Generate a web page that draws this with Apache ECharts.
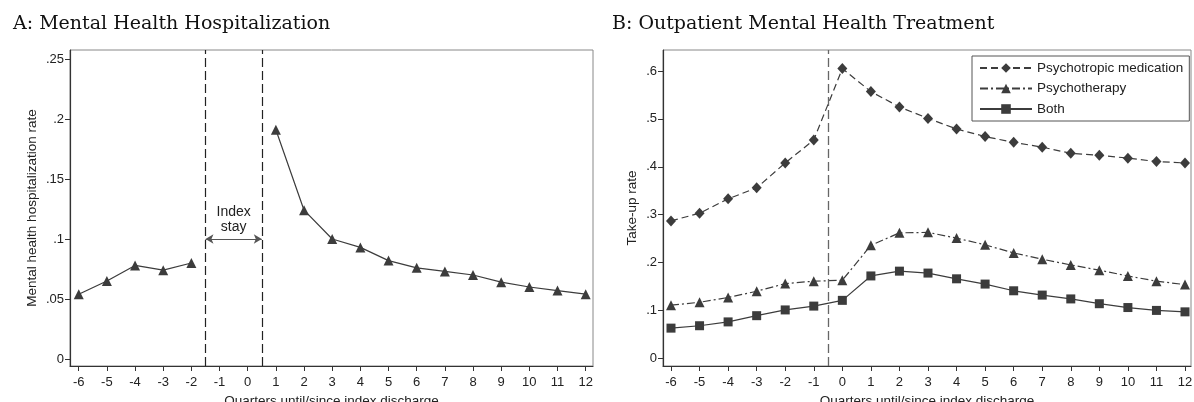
<!DOCTYPE html>
<html>
<head>
<meta charset="utf-8">
<script src="https://cdn.jsdelivr.net/npm/echarts@6/dist/echarts.min.js"></script>
<style>
html,body{margin:0;padding:0;background:#fff;}
#chart{width:1194px;height:402px;}
</style>
</head>
<body>
<div id="chart"></div>
<script>
// ---- data ----
var quarters = [-6,-5,-4,-3,-2,-1,0,1,2,3,4,5,6,7,8,9,10,11,12];
var hospRate = [0.054,0.065,0.078,0.074,0.080,null,null,0.191,0.124,0.100,0.093,0.082,0.076,0.073,0.070,0.064,0.060,0.057,0.054];
var psychMed = [0.287,0.303,0.333,0.356,0.408,0.456,0.605,0.557,0.525,0.501,0.479,0.463,0.451,0.441,0.428,0.424,0.418,0.411,0.408];
var psychTher = [0.111,0.117,0.127,0.140,0.156,0.161,0.163,0.236,0.262,0.263,0.251,0.237,0.220,0.207,0.195,0.184,0.172,0.161,0.154];
var bothRate = [0.063,0.068,0.076,0.089,0.101,0.109,0.121,0.172,0.182,0.178,0.166,0.155,0.141,0.132,0.124,0.114,0.106,0.100,0.097];
var xTicks = [-6,-5,-4,-3,-2,-1,0,1,2,3,4,5,6,7,8,9,10,11,12];
var yTicksA = [0,0.05,0.1,0.15,0.2,0.25];
var yTicksB = [0,0.1,0.2,0.3,0.4,0.5,0.6];
var indexStayBounds = [-1.5, 0.5];
var dischargeLine = -0.5;
var arrowLevel = 0.1;
var titles = ['A: Mental Health Hospitalization','B: Outpatient Mental Health Treatment'];
var seriesNames = ['Psychotropic medication','Psychotherapy','Both'];

function pairs(xs, ys){ return xs.map(function(x,i){ return [x, ys[i]]; }); }
function fmtY(v){ if (v === 0) return '0'; return String(v).replace(/^0/, ''); }

var ink = '#3c3c3c';
var sans = 'Liberation Sans, Arial, sans-serif';

function xAxis(gi, min, max){
  return {
    type:'value', gridIndex:gi, min:min, max:max,
    name:'Quarters until/since index discharge', nameLocation:'middle', nameGap:24,
    nameTextStyle:{fontFamily:sans, fontSize:13.5, color:'#222'},
    axisLine:{show:true, onZero:false, lineStyle:{color:'#333', width:1.2}},
    axisTick:{show:true, customValues:xTicks, length:5, lineStyle:{color:'#333'}},
    axisLabel:{customValues:xTicks, fontFamily:sans, fontSize:13, color:'#222', margin:10},
    splitLine:{show:false}
  };
}
function yAxis(gi, min, max, ticks, name, gap){
  return {
    type:'value', gridIndex:gi, min:min, max:max,
    name:name, nameLocation:'middle', nameGap:gap, nameRotate:90,
    nameTextStyle:{fontFamily:sans, fontSize:13.5, color:'#222'},
    axisLine:{show:true, onZero:false, lineStyle:{color:'#333', width:1.2}},
    axisTick:{show:true, customValues:ticks, length:5, lineStyle:{color:'#333'}},
    axisLabel:{customValues:ticks, formatter:fmtY, fontFamily:sans, fontSize:13, color:'#222', margin:6},
    splitLine:{show:false}
  };
}

var option = {
  animation:false,
  backgroundColor:'#fff',
  title:[
    {text:titles[0], left:8, top:10, textStyle:{fontFamily:'DejaVu Serif', fontSize:19, fontWeight:'normal', color:'#111'}},
    {text:titles[1], left:607, top:10, textStyle:{fontFamily:'DejaVu Serif', fontSize:19, fontWeight:'normal', color:'#111'}}
  ],
  grid:[
    {left:70, top:50, width:523, height:316, show:true, borderColor:'#888', borderWidth:1, containLabel:false, outerBoundsMode:'none'},
    {left:663, top:50, width:528, height:316, show:true, borderColor:'#888', borderWidth:1, containLabel:false, outerBoundsMode:'none'}
  ],
  legend:{
    data:seriesNames, orient:'vertical', left:972, top:56,
    borderColor:'#555', borderWidth:1, borderRadius:0, padding:[5,6,5,7],
    itemWidth:52, itemHeight:12, itemGap:6.5,
    textStyle:{fontFamily:sans, fontSize:13.5, color:'#222'}
  },
  xAxis:[ xAxis(0, -6.31, 12.26), xAxis(1, -6.28, 12.21) ],
  yAxis:[
    yAxis(0, -0.00583, 0.2575, yTicksA, 'Mental health hospitalization rate', 31),
    yAxis(1, -0.0161, 0.6439, yTicksB, 'Take-up rate', 24)
  ],
  series:[
    {
      name:'Hospitalization', type:'line', xAxisIndex:0, yAxisIndex:0,
      data:pairs(quarters, hospRate), connectNulls:false,
      symbol:'triangle', symbolSize:10, color:ink,
      lineStyle:{color:ink, width:1.2}, itemStyle:{color:ink},
      markLine:{
        silent:true, animation:false, symbol:'none',
        data:[
          {xAxis:indexStayBounds[0], lineStyle:{type:[9,4], color:'#222', width:1.2}, label:{show:false}},
          {xAxis:indexStayBounds[1], lineStyle:{type:[9,4], color:'#222', width:1.2}, label:{show:false}},
          [
            {coord:[indexStayBounds[0], arrowLevel], symbol:'arrow', symbolSize:[7,8]},
            {coord:[indexStayBounds[1], arrowLevel], symbol:'arrow', symbolSize:[7,8],
             lineStyle:{type:'solid', color:'#555', width:1.2},
             label:{show:true, position:'insideMiddleTop', distance:4, formatter:'Index\nstay', fontFamily:sans, fontSize:14, lineHeight:15, color:'#222'}}
          ]
        ]
      }
    },
    {
      name:seriesNames[0], type:'line', xAxisIndex:1, yAxisIndex:1,
      data:pairs(quarters, psychMed),
      symbol:'diamond', symbolSize:[10,11], color:ink,
      lineStyle:{color:ink, width:1.2, type:[7,4]}, itemStyle:{color:ink},
      markLine:{
        silent:true, animation:false, symbol:'none',
        data:[{xAxis:dischargeLine, lineStyle:{type:[9,4], color:'#666', width:1.3}, label:{show:false}}]
      }
    },
    {
      name:seriesNames[1], type:'line', xAxisIndex:1, yAxisIndex:1,
      data:pairs(quarters, psychTher),
      symbol:'triangle', symbolSize:10, color:ink,
      lineStyle:{color:ink, width:1.2, type:[8,3,2,3]}, itemStyle:{color:ink}
    },
    {
      name:seriesNames[2], type:'line', xAxisIndex:1, yAxisIndex:1,
      data:pairs(quarters, bothRate),
      symbol:'rect', symbolSize:9, color:ink,
      lineStyle:{color:ink, width:1.2}, itemStyle:{color:ink}
    }
  ]
};

var chart = echarts.init(document.getElementById('chart'));
chart.setOption(option);
</script>
</body>
</html>
